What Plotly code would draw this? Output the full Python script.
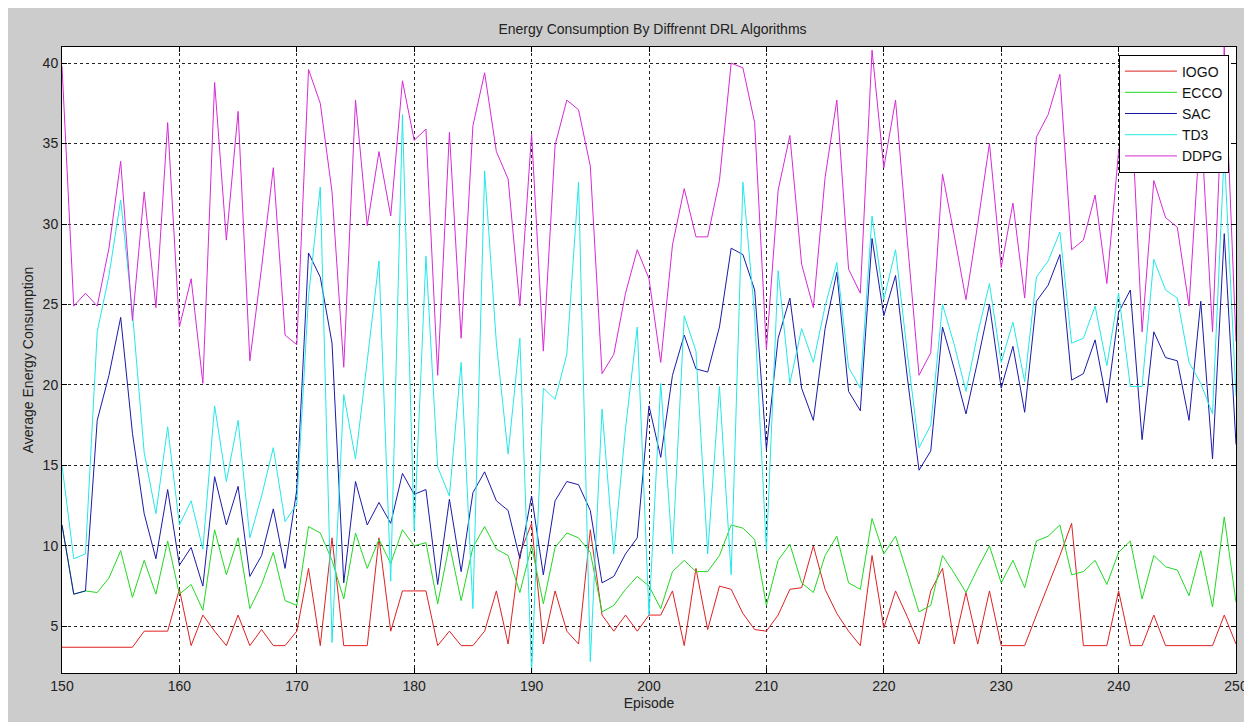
import plotly.graph_objects as go

episodes = list(range(150, 251))

iogo = [3.7, 3.7, 3.7, 3.7, 3.7, 3.7, 3.7, 4.7, 4.7, 4.7,
        7.3, 3.8, 5.7, 4.7, 3.8, 5.7, 3.8, 4.8, 3.8, 3.8,
        4.7, 8.6, 3.8, 10.5, 3.8, 3.8, 3.8, 10.5, 4.7, 7.2,
        7.2, 7.2, 3.8, 4.7, 3.8, 3.8, 4.7, 7.2, 3.9, 9.5,
        11.4, 3.9, 7.2, 4.7, 3.9, 11.0, 5.7, 4.7, 5.7, 4.7,
        5.7, 5.7, 7.2, 3.8, 8.6, 4.8, 7.5, 7.3, 5.8, 4.8,
        4.7, 5.7, 7.3, 7.4, 10.0, 7.3, 5.8, 4.7, 3.8, 9.4,
        4.9, 7.2, 5.6, 3.9, 7.2, 8.6, 3.9, 7.1, 3.9, 7.2,
        3.8, 3.8, 3.8, 5.7, 7.5, 9.4, 11.4, 3.8, 3.8, 3.8,
        7.2, 3.8, 3.8, 5.7, 3.8, 3.8, 3.8, 3.8, 3.8, 5.7,
        3.9]

ecco = [11.3, 7.0, 7.2, 7.1, 8.0, 9.7, 6.8, 9.1, 7.0, 10.3,
        7.0, 7.6, 6.0, 11.0, 8.2, 10.5, 6.1, 7.6, 9.6, 6.6,
        6.3, 11.2, 10.8, 9.1, 6.7, 10.8, 8.6, 10.4, 8.9, 11.0,
        10.0, 10.2, 6.4, 10.1, 6.6, 9.9, 11.2, 9.8, 9.4, 7.1,
        10.0, 6.4, 9.9, 10.8, 10.5, 9.6, 5.9, 6.3, 7.3, 8.1,
        7.5, 6.1, 8.4, 9.1, 8.4, 8.4, 9.4, 11.3, 11.1, 10.4,
        6.3, 9.1, 10.1, 7.7, 7.1, 9.4, 10.6, 7.7, 7.3, 11.7,
        9.5, 10.6, 8.3, 5.9, 6.3, 9.4, 8.3, 7.1, 8.6, 10.0,
        7.7, 9.1, 7.4, 10.3, 10.6, 11.3, 8.2, 8.4, 9.1, 7.6,
        9.6, 10.3, 6.7, 9.4, 8.7, 8.5, 6.9, 9.7, 6.2, 11.8,
        6.5]

sac = [11.3, 7.0, 7.2, 17.8, 20.6, 24.2, 17.0, 12.0, 9.2, 13.5,
       8.8, 9.9, 7.5, 14.3, 11.3, 13.7, 8.1, 9.4, 12.3, 8.6,
       13.5, 28.2, 26.7, 22.6, 7.7, 14.0, 11.3, 12.7, 11.4, 14.5,
       13.2, 13.5, 7.6, 12.9, 8.4, 13.3, 14.6, 12.8, 12.2, 9.2,
       13.1, 8.2, 12.8, 14.0, 13.8, 12.2, 7.7, 8.1, 9.5, 10.5,
       18.7, 15.5, 20.6, 23.1, 21.0, 20.8, 23.6, 28.5, 28.1, 25.9,
       16.0, 22.9, 25.4, 19.8, 17.8, 23.5, 27.0, 19.6, 18.4, 29.1,
       24.3, 26.8, 20.5, 14.7, 15.9, 23.6, 21.0, 18.2, 21.5, 25.0,
       19.8, 22.4, 18.3, 25.2, 26.2, 28.1, 20.3, 20.7, 22.8, 18.9,
       24.5, 25.9, 16.6, 23.3, 21.7, 21.5, 17.8, 25.2, 15.4, 29.4,
       16.3]

td3 = [15.0, 9.2, 9.5, 23.3, 26.8, 31.5, 24.5, 15.8, 12.0, 17.4,
       11.3, 12.8, 9.8, 18.7, 14.0, 17.8, 10.5, 13.1, 16.1, 11.5,
       12.6, 25.5, 32.3, 4.0, 19.4, 15.4, 21.5, 27.7, 7.8, 36.8,
       10.9, 28.0, 14.9, 13.1, 21.4, 6.1, 33.3, 22.6, 15.7, 22.9,
       2.1, 19.8, 19.1, 21.9, 32.6, 2.8, 18.5, 9.5, 17.3, 23.6,
       5.7, 20.1, 9.5, 24.3, 22.1, 9.5, 19.9, 8.2, 32.6, 24.3,
       9.7, 27.1, 20.1, 23.5, 21.4, 24.9, 27.6, 21.1, 19.8, 30.5,
       25.3, 28.4, 22.0, 16.1, 17.5, 25.0, 22.5, 19.6, 23.2, 26.3,
       21.4, 23.9, 20.2, 26.7, 27.7, 29.5, 22.6, 22.9, 24.9, 21.2,
       25.7, 19.9, 19.9, 27.8, 25.9, 25.4, 21.4, 20.1, 18.2, 34.5,
       19.3]

ddpg = [39.8, 24.9, 25.7, 24.9, 28.5, 33.9, 24.0, 32.0, 24.8, 36.3,
        23.6, 26.6, 20.1, 38.8, 29.0, 37.0, 21.5, 27.3, 33.5, 23.1,
        22.5, 39.6, 37.5, 32.0, 21.1, 37.7, 29.9, 34.5, 30.5, 38.9,
        35.2, 35.9, 20.6, 35.7, 22.9, 36.1, 39.4, 34.5, 32.8, 24.9,
        35.6, 22.1, 34.9, 37.7, 37.1, 33.6, 20.7, 21.9, 25.7, 28.4,
        26.6, 21.4, 28.7, 32.2, 29.2, 29.2, 32.7, 40.0, 39.7, 36.3,
        22.2, 32.1, 35.5, 27.5, 24.8, 32.9, 37.7, 27.2, 25.7, 40.8,
        33.5, 37.7, 29.0, 20.6, 22.0, 33.1, 29.3, 25.3, 30.0, 35.0,
        27.3, 31.3, 25.4, 35.4, 36.8, 39.3, 28.4, 29.0, 31.8, 26.3,
        34.5, 38.5, 23.3, 32.7, 30.4, 29.8, 24.9, 36.5, 23.3, 41.0,
        22.7]

series_names = ["IOGO", "ECCO", "SAC", "TD3", "DDPG"]
series_values = [iogo, ecco, sac, td3, ddpg]
series_colors = ["#dd2222", "#22d822", "#1a1aa8", "#22e8e8", "#d62ad6"]

x_ticks = list(range(150, 251, 10))
y_ticks = [5, 10, 15, 20, 25, 30, 35, 40]

all_vals = [v for s in series_values for v in s]
y_min, y_max = min(all_vals), max(all_vals)

fig = go.Figure()
for name, vals, col in zip(series_names, series_values, series_colors):
    fig.add_trace(go.Scatter(x=episodes, y=vals, mode="lines", name=name,
                             line=dict(color=col, width=1)))

font_family = "Liberation Sans, Arial, sans-serif"
fig.update_layout(
    width=1252, height=722,
    paper_bgcolor="#cccccc", plot_bgcolor="white",
    margin=dict(l=54, r=17, t=39, b=57),
    title=dict(text="Energy Consumption By Diffrennt DRL Algorithms",
               x=(54 + 1235) / 2 / 1252, xanchor="center", y=1 - 21 / 722, yanchor="middle",
               font=dict(family=font_family, size=14, color="#222")),
    font=dict(family=font_family, size=14, color="#222"),
    showlegend=True,
    legend=dict(x=0.994, xanchor="right", y=0.988, yanchor="top",
                bgcolor="white", bordercolor="black", borderwidth=1,
                font=dict(family=font_family, size=14, color="#111"),
                tracegroupgap=0, itemwidth=52),
)
fig.update_xaxes(range=[150, 250], tickvals=x_ticks, ticktext=[str(t) for t in x_ticks],
                 showgrid=True, gridcolor="#222", griddash="3px,3px", gridwidth=1,
                 showline=True, linecolor="black", linewidth=1, mirror="ticks",
                 ticks="inside", ticklen=5, tickcolor="black",
                 zeroline=False, tickfont=dict(size=14),
                 title=dict(text="Episode", font=dict(size=14, color="#222"), standoff=5))
fig.update_yaxes(range=[y_min, y_max], tickvals=y_ticks, ticktext=[str(t) for t in y_ticks],
                 showgrid=True, gridcolor="#222", griddash="3px,3px", gridwidth=1,
                 showline=True, linecolor="black", linewidth=1, mirror="ticks",
                 ticks="inside", ticklen=5, tickcolor="black",
                 zeroline=False, tickfont=dict(size=14),
                 title=dict(text="Average Energy Consumption", font=dict(size=14, color="#222"), standoff=5))

fig.write_html("out.html")
